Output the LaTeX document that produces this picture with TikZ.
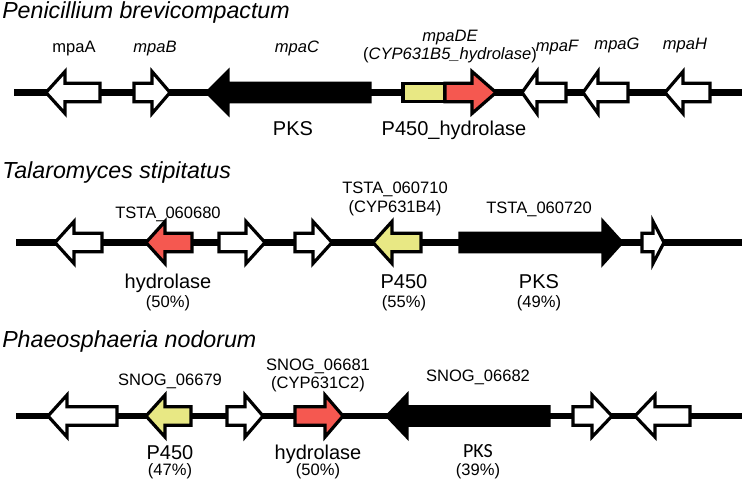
\documentclass[tikz,border=0pt]{standalone}
\usepackage{fontspec}
\setmainfont{Liberation Sans}
\newfontfamily\calfont{Carlito}
\definecolor{genered}{RGB}{245,88,80}
\definecolor{geneyel}{RGB}{232,232,132}
\tikzset{
  gene/.style={draw=black, line width=2.4pt, line join=miter},
  backbone/.style={draw=black, line width=4.9pt},
  lab/.style={inner sep=0pt, anchor=base, font=\fontsize{12.4}{14}\selectfont},
  big/.style={inner sep=0pt, anchor=base, font=\fontsize{15}{17}\selectfont},
  ttl/.style={inner sep=0pt, anchor=base west, font=\fontsize{17.4}{20}\selectfont\itshape},
}
% #1 body end x, #2 head base x, #3 tip x, #4 centre y, #5 fill
\newcommand{\garrow}[5]{%
  \draw[gene, fill=#5] (#1,#4-9.2) -- (#2,#4-9.2) -- (#2,#4-21) -- (#3,#4)
    -- (#2,#4+21) -- (#2,#4+9.2) -- (#1,#4+9.2) -- cycle;}
\begin{document}
\begin{tikzpicture}[x=0.75pt, y=-0.75pt]
\useasboundingbox (0,0) rectangle (742,481);
% ---------------- Row 1 ----------------
\node[ttl] (t1) at (2,19) {Penicillium brevicompactum};
\coordinate (b1s) at (14,92.5);
\coordinate (b1e) at (742,92.5);
\draw[backbone] (b1s) -- (b1e);
\garrow{100}{65}{46}{92.5}{white}
\garrow{134}{152}{170}{92.5}{white}
\garrow{370}{228}{207}{92.5}{black}
\draw[gene, fill=geneyel] (403,92.5-9.2) rectangle (445,92.5+9.2);
\garrow{445}{472}{496}{92.5}{genered}
\garrow{566}{537}{522}{92.5}{white}
\garrow{628}{598}{583}{92.5}{white}
\garrow{710}{683}{665}{92.5}{white}
\node[lab] (mpaA) at (74,53) {mpaA};
\node[lab] (mpaB) at (155,53) {\itshape mpaB};
\node[lab] (mpaC) at (297,53) {\itshape mpaC};
\node[lab] (mpaDE) at (450,42) {\itshape mpaDE};
\node[lab] (mpaDE2) at (450,60) {(\textit{CYP631B5\_hydrolase})};
\node[lab] (mpaF) at (557,52) {\itshape mpaF};
\node[lab] (mpaG) at (617,50) {\itshape mpaG};
\node[lab] (mpaH) at (685,50) {\itshape mpaH};
\node[big] (pks1) at (293,136) {PKS};
\node[big] (ph1) at (454,136) {P450\_hydrolase};
% ---------------- Row 2 ----------------
\node[ttl] (t2) at (2,178.5) {Talaromyces stipitatus};
\coordinate (b2s) at (16,242.5);
\coordinate (b2e) at (742,242.5);
\draw[backbone] (b2s) -- (b2e);
\garrow{102}{74}{55}{242.5}{white}
\garrow{192}{165}{146}{242.5}{genered}
\garrow{219}{246}{265}{242.5}{white}
\garrow{295}{313}{332}{242.5}{white}
\garrow{421}{392}{373}{242.5}{geneyel}
\garrow{460}{603}{622}{242.5}{black}
\garrow{642}{653}{664}{242.5}{white}
\node[lab] (ts680) at (168,218) {TSTA\_060680};
\node[lab] (ts710) at (395,193) {TSTA\_060710};
\node[lab] (ts710b) at (395,212) {(CYP631B4)};
\node[lab] (ts720) at (539,213) {TSTA\_060720};
\node[big] (hyd2) at (168,288) {hydrolase};
\node[lab] (p50) at (168,307) {(50\%)};
\node[big] (p4502) at (404,288) {P450};
\node[lab] (p55) at (404,307) {(55\%)};
\node[big] (pks2) at (539,288) {PKS};
\node[lab] (p49) at (539,307) {(49\%)};
% ---------------- Row 3 ----------------
\node[ttl] (t3) at (2,347) {Phaeosphaeria nodorum};
\coordinate (b3s) at (16,416);
\coordinate (b3e) at (742,416);
\draw[backbone] (b3s) -- (b3e);
\garrow{117}{67}{48}{416}{white}
\garrow{191}{165}{146}{416}{geneyel}
\garrow{227}{245}{263}{416}{white}
\garrow{295}{325}{343}{416}{genered}
\garrow{549}{407}{387}{416}{black}
\garrow{573}{592}{612}{416}{white}
\garrow{690}{655}{635}{416}{white}
\node[lab] (sn679) at (170,385) {SNOG\_06679};
\node[lab] (sn681) at (318,370) {SNOG\_06681};
\node[lab] (sn681b) at (318,388) {(CYP631C2)};
\node[lab] (sn682) at (478,381) {SNOG\_06682};
\node[big] (p4503) at (170,459) {P450};
\node[lab] (p47) at (170,475) {(47\%)};
\node[big] (hyd3) at (318,459) {hydrolase};
\node[lab] (p50b) at (318,475) {(50\%)};
\node[big, font=\calfont\fontsize{15}{17}\selectfont] (pks3) at (478,457) {PKS};
\node[lab] (p39) at (478,475) {(39\%)};
\end{tikzpicture}
\end{document}
